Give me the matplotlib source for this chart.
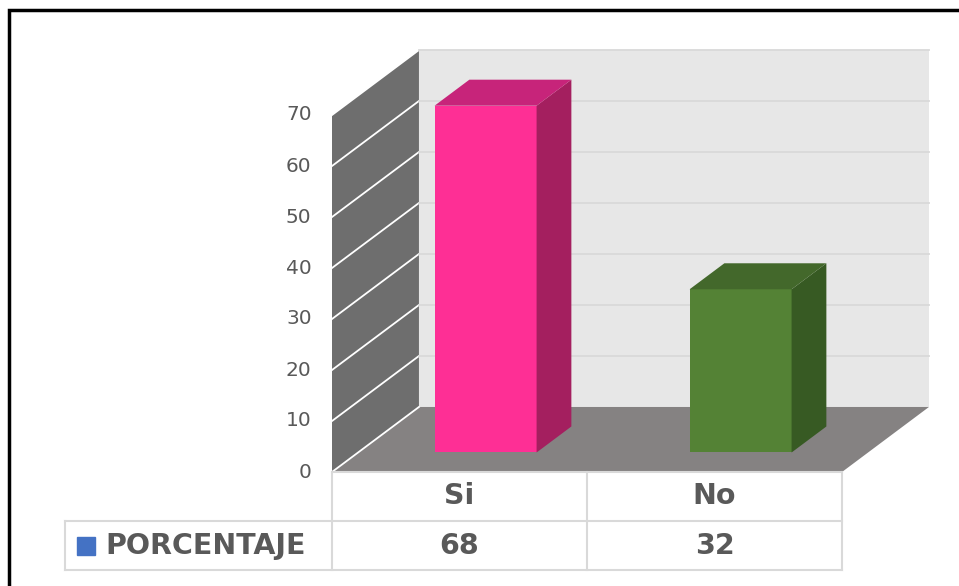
import matplotlib
matplotlib.use('Agg')
import matplotlib.pyplot as plt
from matplotlib.patches import Polygon, Rectangle

# datos del grafico
categorias = ['Si', 'No']
porcentajes = [68, 32]
serie = 'PORCENTAJE'
ticks_y = [0, 10, 20, 30, 40, 50, 60, 70]

color_frente = ['#fe2f95', '#548235']
color_tapa = ['#c7247a', '#43682b']
color_lado = ['#a41f5f', '#375a23']

# proyeccion oblicua (profundidad)
DX = 0.341
DY = 12.75
Z0, Z1 = 0.3, 0.7
ANCHO = 0.4
YMAX = 70

def P(x, y, z):
    return (x + z * DX, y + z * DY)

def cara(ax, pts, color, zorder):
    ax.add_patch(Polygon([P(*p) for p in pts], closed=True, facecolor=color,
                         edgecolor='none', zorder=zorder))

fig = plt.figure(figsize=(9.59, 5.86), dpi=100)
ax = fig.add_axes([0, 0, 1, 1])
ax.set_xlim(-332 / 255, (959 - 332) / 255)
ax.set_ylim(-114 / 5.1, (586 - 114) / 5.1)
ax.axis('off')

n = len(categorias)

# paredes y piso
cara(ax, [(0, 0, 0), (0, YMAX, 0), (0, YMAX, 1), (0, 0, 1)], '#6e6e6e', 1)
cara(ax, [(0, 0, 1), (n, 0, 1), (n, YMAX, 1), (0, YMAX, 1)], '#e7e7e7', 1)
cara(ax, [(0, 0, 0), (n, 0, 0), (n, 0, 1), (0, 0, 1)], '#858282', 1)

# lineas de cuadricula
for t in ticks_y:
    a, b = P(0, t, 0), P(0, t, 1)
    ax.plot([a[0], b[0]], [a[1], b[1]], color='white', lw=1.3, zorder=2)
    if t > 0:
        a, b = P(0, t, 1), P(n, t, 1)
        ax.plot([a[0], b[0]], [a[1], b[1]], color='#d9d9d9', lw=1.3, zorder=2)
    ax.text(-0.08, t, str(t), ha='right', va='center', fontsize=14.5,
            color='#595959')

# barras
for i, v in enumerate(porcentajes):
    x0 = i + 0.5 - ANCHO / 2
    x1 = i + 0.5 + ANCHO / 2
    cara(ax, [(x0, 0, Z0), (x1, 0, Z0), (x1, v, Z0), (x0, v, Z0)], color_frente[i], 3)
    cara(ax, [(x1, 0, Z0), (x1, 0, Z1), (x1, v, Z1), (x1, v, Z0)], color_lado[i], 3)
    cara(ax, [(x0, v, Z0), (x1, v, Z0), (x1, v, Z1), (x0, v, Z1)], color_tapa[i], 3)

# tabla de datos
axt = fig.add_axes([0, 0, 1, 1])
axt.set_xlim(ax.get_xlim())
axt.set_ylim((586 - 472) / 49, -472 / 49)
axt.patch.set_alpha(0)
axt.axis('off')

izq = (65 - 332) / 255
gris = '#d9d9d9'
axt.plot([0, n], [0, 0], color=gris, lw=1.5)
axt.plot([izq, n], [1, 1], color=gris, lw=1.5)
axt.plot([izq, n], [2, 2], color=gris, lw=1.5)
axt.plot([izq, izq], [1, 2], color=gris, lw=1.5)
for k in range(n + 1):
    axt.plot([k, k], [0, 2], color=gris, lw=1.5)

for i, (c, v) in enumerate(zip(categorias, porcentajes)):
    axt.text(i + 0.5, 0.5, c, ha='center', va='center', fontsize=20.5,
             fontweight='bold', color='#595959')
    axt.text(i + 0.5, 1.5, str(v), ha='center', va='center', fontsize=20.5,
             fontweight='bold', color='#595959')

axt.plot([(86 - 332) / 255], [1.52], marker='s', markersize=12.5,
         color='#4472c4', linestyle='none')
axt.text((105 - 332) / 255, 1.5, serie, ha='left', va='center', fontsize=20.5,
         fontweight='bold', color='#595959')

# marco exterior
fig.patches.append(Rectangle((8.5 / 959, -0.1), 2, 1.1 - 9.5 / 586,
                             transform=fig.transFigure, fill=False,
                             edgecolor='black', lw=2.5))

fig.savefig('out.png', dpi=100)
